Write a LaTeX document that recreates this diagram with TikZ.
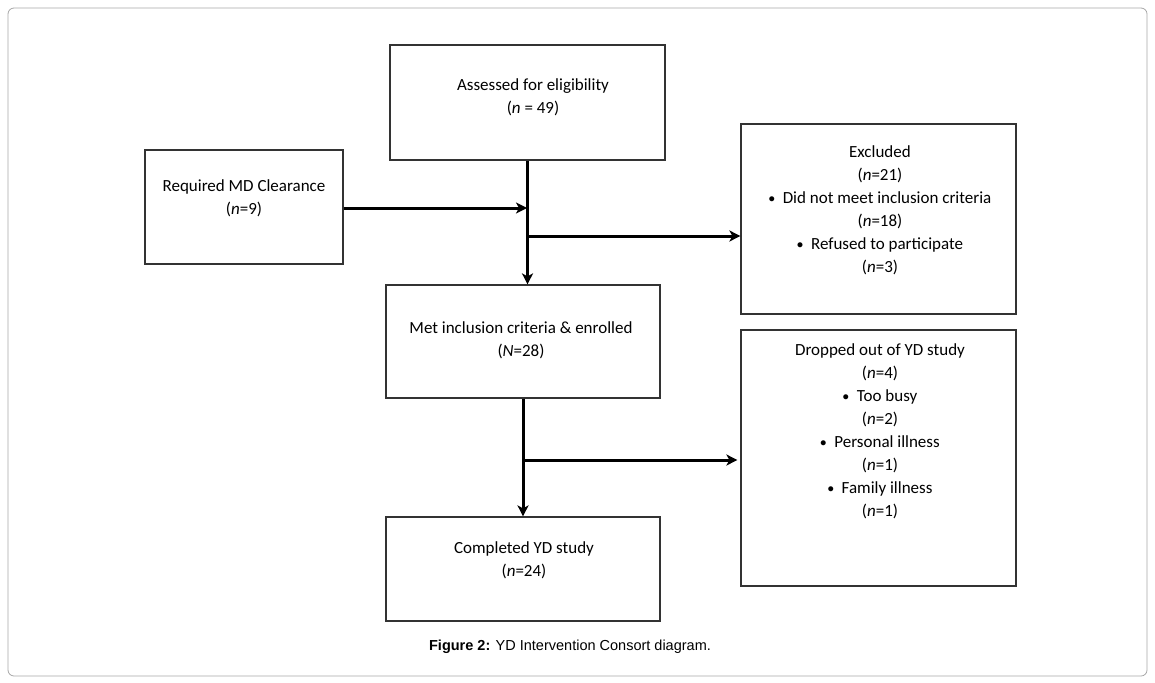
\documentclass[tikz,border=0pt]{standalone}
\usepackage{fontspec}
\setmainfont{Carlito}
\newfontfamily\capfont{Liberation Sans}
\usetikzlibrary{positioning}
\usetikzlibrary{arrows.meta}
\tikzset{x=1pt,y=-1pt,
    box/.style={
        draw=black!80,
        line width=1.2pt,
        fill=white,
        inner sep=0pt},
    txt/.style={
        align=center,
        font=\fontsize{17}{23}\selectfont,
        inner sep=0pt},
    flow/.style={
        draw,
        line width=3pt,
        -{Stealth[length=11pt,width=11pt,inset=3pt]}}}
\newcommand{\bul}{\raisebox{1pt}{\scalebox{0.75}{$\bullet$}}\ \ }

\begin{document}
\begin{tikzpicture}
        \useasboundingbox (0,0) rectangle (1155,682);
        \draw[black!35,rounded corners=6pt,line width=0.8pt] (8,8) rectangle (1147,676);

        % boxes
        \node[box,minimum width=275pt,minimum height=115pt] (assess) at (527.5,102.5) {};
        \node[box,minimum width=198pt,minimum height=114pt] (md) at (244,207) {};
        \node[box,minimum width=275pt,minimum height=190pt] (excl) at (878.5,219) {};
        \node[box,minimum width=274pt,minimum height=113pt] (met) at (523,341.5) {};
        \node[box,minimum width=275pt,minimum height=256pt] (drop) at (878.5,458) {};
        \node[box,minimum width=274pt,minimum height=104pt] (done) at (523,569) {};

        % texts
        \node[txt] (assess-t) at (533,97) {Assessed for eligibility\\(\textit{n} = 49)};
        \node[txt] (md-t) at (244,198) {Required MD Clearance\\(\textit{n}=9)};
        \node[txt] (excl-t) at (880,210) {Excluded\\(\textit{n}=21)\\\bul Did not meet inclusion criteria\\(\textit{n}=18)\\\bul Refused to participate\\(\textit{n}=3)};
        \node[txt] (met-t) at (521,340) {Met inclusion criteria \& enrolled\\(\textit{N}=28)};
        \node[txt] (drop-t) at (880,431) {Dropped out of YD study\\(\textit{n}=4)\\\bul Too busy\\(\textit{n}=2)\\\bul Personal illness\\(\textit{n}=1)\\\bul Family illness\\(\textit{n}=1)};
        \node[txt] (done-t) at (524,560) {Completed YD study\\(\textit{n}=24)};
        \node[font=\capfont\fontsize{14.5}{16}\selectfont,inner sep=0pt] (cap) at (570,647) {\textbf{Figure 2:} YD Intervention Consort diagram.};

        % connectors
        \coordinate (j1) at (527,208);
        \coordinate (j2) at (527,236);
        \coordinate (j3) at (523,460);
        \draw[flow] (assess.south) -- (assess.south |- met.north);
        \draw[flow] (md.east |- j1) -- (j1);
        \draw[flow] (j2) -- (excl.west |- j2);
        \draw[flow] (met.south) -- (done.north);
        \draw[flow] (j3) -- ([xshift=-3pt]drop.west |- j3);
    \end{tikzpicture}
\end{document}
